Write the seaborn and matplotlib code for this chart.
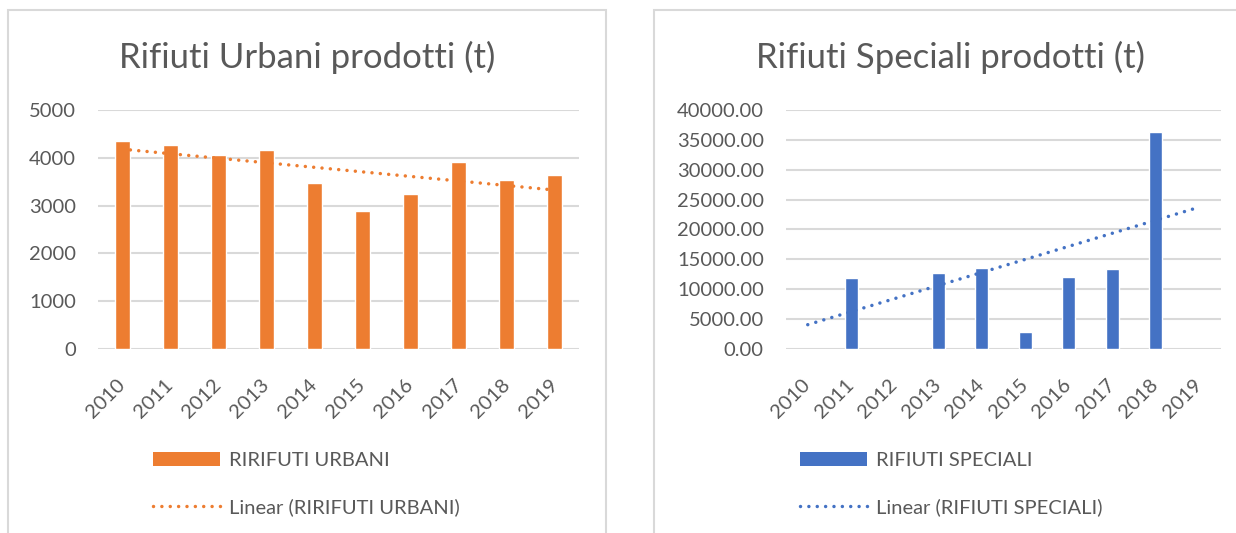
import numpy as np
import pandas as pd
import matplotlib
matplotlib.use("Agg")
import matplotlib.pyplot as plt
from matplotlib.patches import Rectangle, Patch
from matplotlib.lines import Line2D
from matplotlib.ticker import MultipleLocator, FormatStrFormatter
import seaborn as sns

# Annual production in tonnes (blank years have no recorded value)
years = ["2010", "2011", "2012", "2013", "2014", "2015", "2016", "2017", "2018", "2019"]
urbani = [4350, 4270, 4060, 4170, 3480, 2880, 3240, 3910, 3530, 3640]
speciali = [np.nan, 11900, np.nan, 12700, 13500, 2900, 12000, 13400, 36400, np.nan]

title_urbani = "Rifiuti Urbani prodotti (t)"
title_speciali = "Rifiuti Speciali prodotti (t)"
legend_urbani = ["RIRIFUTI URBANI", "Linear (RIRIFUTI URBANI)"]
legend_speciali = ["RIFIUTI SPECIALI", "Linear (RIFIUTI SPECIALI)"]

ORANGE = "#ED7D31"
BLUE = "#4472C4"
TEXT = "#595959"
GRID = "#D9D9D9"
DOTS = (0, (0.01, 2.4))

sns.set_style("white")
plt.rcParams["font.family"] = ["Lato", "DejaVu Sans"]

W, H = 1236, 533
fig = plt.figure(figsize=(W / 100, H / 100), dpi=100)


def fx(px):
    return px / W


def fy(py):
    return 1 - py / H


def trend(values):
    v = np.asarray(values, dtype=float)
    idx = np.arange(len(v))
    ok = ~np.isnan(v)
    coef = np.polyfit(idx[ok], v[ok], 1)
    return np.polyval(coef, idx)


def panel(rect, values, color, ymax, step, fmt):
    ax = fig.add_axes(rect)
    df = pd.DataFrame({"anno": years, "t": values}).dropna()
    sns.barplot(data=df, x="anno", y="t", order=years, color=color,
                width=0.31, saturation=1, errorbar=None, ax=ax, zorder=2)
    ax.plot(range(len(years)), trend(values), color=color, lw=2.5,
            linestyle=DOTS, dash_capstyle="round", zorder=3)
    ax.set_xlim(-0.5, len(years) - 0.5)
    ax.set_ylim(0, ymax)
    ax.yaxis.set_major_locator(MultipleLocator(step))
    ax.yaxis.set_major_formatter(FormatStrFormatter(fmt))
    ax.grid(axis="y", color=GRID, lw=1.5, zorder=0)
    ax.set_axisbelow(True)
    for s in ax.spines.values():
        s.set_visible(False)
    ax.set_xlabel("")
    ax.set_ylabel("")
    ax.tick_params(axis="both", length=0, labelcolor=TEXT, labelsize=14.5)
    ax.tick_params(axis="y", pad=16)
    ax.tick_params(axis="x", pad=24)
    for lab in ax.get_xticklabels():
        lab.set_rotation(45)
        lab.set_ha("right")
        lab.set_va("center")
        lab.set_rotation_mode("anchor")
    return ax


def legend(x, y, color, labels):
    handles = [Patch(facecolor=color, edgecolor="none"),
               Line2D([], [], color=color, lw=2.5, linestyle=DOTS,
                      dash_capstyle="round")]
    fig.legend(handles, labels, loc="upper left", bbox_to_anchor=(fx(x), fy(y)),
               frameon=False, fontsize=14.5, labelcolor=TEXT, handlelength=3.33,
               handleheight=0.7, handletextpad=0.45, labelspacing=1.45,
               borderpad=0, borderaxespad=0)


# chart frames
for x0, x1 in [(8, 606), (654, 1260)]:
    fig.add_artist(Rectangle((fx(x0), fy(545)), fx(x1) - fx(x0), fy(10) - fy(545),
                             transform=fig.transFigure, fill=False,
                             edgecolor=GRID, linewidth=1.5, clip_on=False))

bottom, top = fy(349), fy(110)
panel([fx(98), bottom, fx(579) - fx(98), top - bottom], urbani, ORANGE, 5000, 1000, "%d")
panel([fx(786), bottom, fx(1221) - fx(786), top - bottom], speciali, BLUE, 40000, 5000, "%.2f")

fig.text(fx(307), fy(68), title_urbani, ha="center", va="baseline",
         fontsize=25, color=TEXT)
fig.text(fx(951), fy(68), title_speciali, ha="center", va="baseline",
         fontsize=25, color=TEXT)

legend(153, 452, ORANGE, legend_urbani)
legend(800, 452, BLUE, legend_speciali)

fig.savefig("out.png", dpi=100)
